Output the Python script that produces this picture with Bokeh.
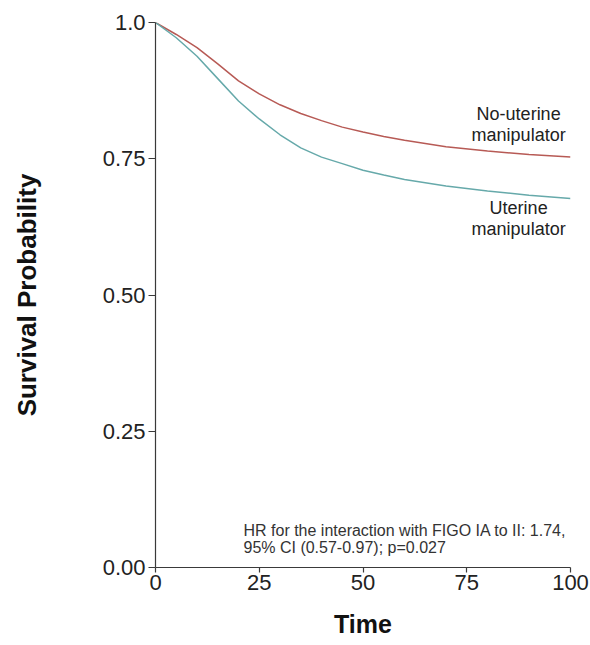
from bokeh.plotting import figure
from bokeh.models import Range1d, FixedTicker, Label
from bokeh.embed import file_html
from bokeh.resources import INLINE

# ---- data ----
time = [0, 5, 10, 15, 20, 25, 30, 35, 40, 45, 50, 55, 60, 70, 80, 90, 100]
no_uterine = [1.0, 0.978, 0.954, 0.924, 0.893, 0.869, 0.849, 0.833, 0.820, 0.808,
              0.799, 0.791, 0.784, 0.772, 0.764, 0.758, 0.753]
uterine = [1.0, 0.972, 0.938, 0.897, 0.856, 0.823, 0.794, 0.770, 0.753, 0.741,
           0.729, 0.720, 0.712, 0.700, 0.691, 0.683, 0.677]
x_ticks = [0, 25, 50, 75, 100]
y_ticks = [0.0, 0.25, 0.5, 0.75, 1.0]
y_tick_labels = ["0.00", "0.25", "0.50", "0.75", "1.0"]

FONT = "Liberation Sans"
RED = "#b75a55"
TEAL = "#66a9aa"
AXIS = "#3a3a3a"

p = figure(width=590, height=645, output_backend="svg", toolbar_location=None,
           x_range=Range1d(0, 100), y_range=Range1d(0, 1),
           min_border_left=155, min_border_right=20, min_border_top=22,
           min_border_bottom=78)
p.outline_line_color = None
p.grid.visible = False
p.background_fill_color = "white"
p.border_fill_color = "white"

p.line(time, no_uterine, line_color=RED, line_width=1.5)
p.line(time, uterine, line_color=TEAL, line_width=1.5)

# axes
p.xaxis.ticker = FixedTicker(ticks=x_ticks)
p.yaxis.ticker = FixedTicker(ticks=y_ticks)
p.yaxis.major_label_overrides = {t: l for t, l in zip(y_ticks, y_tick_labels)}
for ax in (p.xaxis, p.yaxis):
    ax.axis_line_color = AXIS
    ax.axis_line_width = 1.2
    ax.major_tick_line_color = AXIS
    ax.major_tick_line_width = 1.2
    ax.major_tick_out = 7
    ax.major_tick_in = 0
    ax.minor_tick_line_color = None
    ax.major_label_text_font = FONT
    ax.major_label_text_font_size = "22px"
    ax.major_label_text_color = "#222222"
    ax.axis_label_text_font = FONT
    ax.axis_label_text_font_style = "bold"
    ax.axis_label_text_color = "#111111"

p.xaxis.major_tick_out = 5
p.xaxis.major_label_standoff = 2
p.yaxis.major_label_standoff = 3
p.xaxis.axis_label = "Time"
p.yaxis.axis_label = "Survival Probability"
p.xaxis.axis_label_text_font_size = "25px"
p.yaxis.axis_label_text_font_size = "26px"
p.xaxis.axis_label_standoff = 17
p.yaxis.axis_label_standoff = 58

# curve labels
for txt, y in [("No-uterine", 0.833), ("manipulator", 0.793),
               ("Uterine", 0.659), ("manipulator", 0.622)]:
    p.add_layout(Label(x=87.5, y=y, text=txt, text_align="center",
                       text_baseline="middle", text_font=FONT,
                       text_font_size="18px", text_color="#222222"))

# annotation
for txt, y in [("HR for the interaction with FIGO IA to II: 1.74,", 0.068),
               ("95% CI (0.57-0.97); p=0.027", 0.037)]:
    p.add_layout(Label(x=21.2, y=y, text=txt, text_align="left",
                       text_baseline="middle", text_font=FONT,
                       text_font_size="16px", text_color="#333333"))

open("out.html", "w").write(file_html(p, INLINE))
